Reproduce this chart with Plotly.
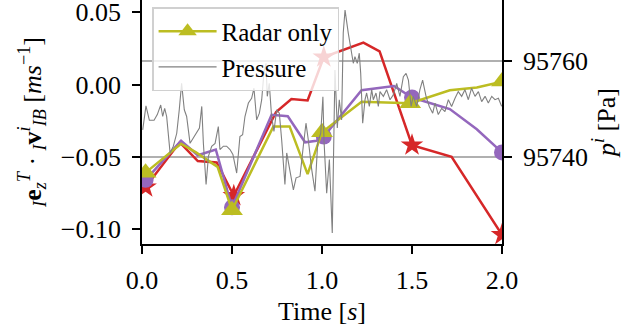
import plotly.graph_objects as go

# ---------------- data ----------------
RED_T = [0.02, 0.21, 0.31, 0.415, 0.51, 0.745, 0.83, 0.92, 1.01, 1.23, 1.32, 1.50, 1.72, 2.0]
RED_V = [-0.071, -0.040, -0.053, -0.054, -0.077, -0.019, -0.010, -0.011, 0.019, 0.029, 0.023, -0.042, -0.050, -0.104]
RED_MARK = [0, 4, 8, 11, 13]

PUR_T = [0.02, 0.217, 0.31, 0.41, 0.50, 0.72, 0.81, 0.906, 0.97, 1.01, 1.22, 1.40, 1.50, 1.71, 1.86, 2.0]
PUR_V = [-0.066, -0.039, -0.049, -0.045, -0.085, -0.021, -0.022, -0.040, -0.039, -0.036, -0.004, -0.001, -0.009, -0.017, -0.031, -0.047]
PUR_MARK = [0, 4, 9, 12, 15]

OLI_T = [0.02, 0.217, 0.30, 0.42, 0.50, 0.73, 0.82, 0.92, 1.0, 1.22, 1.49, 1.71, 1.86, 2.0]
OLI_V = [-0.061, -0.041, -0.047, -0.057, -0.087, -0.029, -0.029, -0.062, -0.033, -0.012, -0.013, -0.004, -0.002, 0.002]
OLI_MARK = [0, 4, 8, 10, 13]

P_T = [0.004, 0.022, 0.041, 0.067, 0.085, 0.104, 0.115, 0.126, 0.137, 0.156,
       0.174, 0.193, 0.207, 0.220, 0.235, 0.248, 0.267, 0.285, 0.304, 0.319,
       0.332, 0.341, 0.356, 0.369, 0.387, 0.406, 0.424, 0.433, 0.452, 0.470,
       0.489, 0.505, 0.526, 0.544, 0.559, 0.572, 0.591, 0.609, 0.622, 0.637,
       0.652, 0.665, 0.678, 0.689, 0.696, 0.707, 0.720, 0.733, 0.748, 0.763,
       0.776, 0.794, 0.804, 0.822, 0.841, 0.856, 0.878, 0.896, 0.911, 0.924,
       0.943, 0.961, 0.976, 0.993, 1.005, 1.011, 1.026, 1.041, 1.057, 1.072,
       1.085, 1.096, 1.109, 1.118, 1.128, 1.146, 1.165, 1.174, 1.183, 1.196,
       1.207, 1.215, 1.226, 1.239, 1.248, 1.263, 1.276, 1.285, 1.300, 1.313,
       1.322, 1.341, 1.359, 1.378, 1.396, 1.415, 1.433, 1.452, 1.467, 1.480,
       1.495, 1.507, 1.526, 1.544, 1.559, 1.578, 1.596, 1.615, 1.628, 1.646,
       1.665, 1.683, 1.702, 1.720, 1.739, 1.757, 1.776, 1.794, 1.813, 1.831,
       1.850, 1.869, 1.887, 1.906, 1.924, 1.943, 1.961, 1.980, 1.998]
P_V = [95745.6, 95750.6, 95747.6, 95747.6, 95748.8, 95750.8, 95748.4, 95750.1, 95748.4, 95740.8,
       95742.2, 95744.9, 95749.8, 95755.3, 95749.8, 95748.4, 95742.8, 95743.9, 95744.9, 95746.0,
       95750.5, 95742.8, 95734.2, 95740.1, 95742.2, 95742.8, 95746.3, 95741.5, 95742.2, 95742.2,
       95741.5, 95740.5, 95736.6, 95744.2, 95744.6, 95748.4, 95751.2, 95752.2, 95754.3, 95747.7,
       95749.1, 95751.9, 95757.8, 95759.5, 95752.6, 95755.3, 95748.4, 95745.3, 95749.8, 95749.1,
       95743.5, 95734.2, 95740.8, 95736.6, 95733.1, 95735.6, 95735.9, 95742.2, 95747.0, 95743.5,
       95737.3, 95732.8, 95742.8, 95744.9, 95752.5, 95743.5, 95732.4, 95739.4, 95724.1, 95758.1,
       95746.0, 95751.9, 95747.7, 95765.8, 95770.6, 95765.8, 95761.6, 95759.5, 95760.9, 95759.5,
       95761.6, 95757.4, 95747.0, 95751.9, 95753.3, 95750.5, 95754.0, 95751.9, 95753.3, 95750.5,
       95753.6, 95752.6, 95754.0, 95751.9, 95752.9, 95755.3, 95752.6, 95756.7, 95757.4, 95756.0,
       95750.5, 95752.6, 95750.5, 95754.0, 95756.0, 95752.6, 95750.5, 95749.1, 95751.2, 95748.8,
       95750.1, 95749.4, 95751.9, 95750.5, 95752.2, 95753.6, 95752.6, 95754.0, 95751.9, 95754.3,
       95752.6, 95753.6, 95751.5, 95752.6, 95751.2, 95752.6, 95751.9, 95752.2, 95750.5]

X_TICKS = [0, 0.5, 1.0, 1.5, 2.0]
X_TICKTEXT = ["0.0", "0.5", "1.0", "1.5", "2.0"]
Y_TICKS = [-0.10, -0.05, 0.00, 0.05]
Y_TICKTEXT = ["\u22120.10", "\u22120.05", "0.00", "0.05"]
Y2_TICKS = [95740, 95760]
Y2_TICKTEXT = ["95740", "95760"]

# ---------------- style ----------------
RED = "#d62728"
PURPLE = "#9467bd"
OLIVE = "#bcbd22"
GRAY = "#808080"
FONT = "Liberation Serif, serif"
FS = 26

fig = go.Figure()


def add_series(t, v, idx, color, symbol, msize):
    fig.add_trace(go.Scatter(x=t, y=v, mode="lines", line=dict(color=color, width=2.5),
                             showlegend=False, hoverinfo="skip"))
    fig.add_trace(go.Scatter(x=[t[i] for i in idx], y=[v[i] for i in idx], mode="markers",
                             marker=dict(symbol=symbol, size=msize, color=color,
                                         line=dict(width=0)),
                             showlegend=False, hoverinfo="skip"))


add_series(RED_T, RED_V, RED_MARK, RED, "star", 17)
add_series(PUR_T, PUR_V, PUR_MARK, PURPLE, "circle", 16)
add_series(OLI_T, OLI_V, OLI_MARK, OLIVE, "triangle-up", 19)

# legend entry for Radar only
fig.add_trace(go.Scatter(x=[None], y=[None], mode="lines+markers", name="Radar only",
                         line=dict(color=OLIVE, width=2.5),
                         marker=dict(symbol="triangle-up", size=16, color=OLIVE)))

fig.add_trace(go.Scatter(x=P_T, y=P_V, mode="lines", name="Pressure", yaxis="y2",
                         line=dict(color=GRAY, width=1.1)))

axis_common = dict(showline=True, linecolor="black", linewidth=1.6, ticks="outside",
                   ticklen=8, tickwidth=1.6, tickcolor="black", zeroline=False,
                   automargin=False, ticklabeloverflow="allow",
                   tickfont=dict(family=FONT, size=FS, color="black"))

fig.update_layout(
    width=629, height=330,
    margin=dict(l=142, r=127, t=0, b=86, autoexpand=False),
    paper_bgcolor="white", plot_bgcolor="white",
    font=dict(family=FONT, size=FS, color="black"),
    xaxis=dict(range=[0, 2], tickvals=X_TICKS, ticktext=X_TICKTEXT, showgrid=False,
               title=dict(text="Time [<i>s</i>]", standoff=8,
                          font=dict(family=FONT, size=FS)),
               ticklabelstandoff=4, **axis_common),
    yaxis=dict(range=[-0.1104, 0.0585], tickvals=Y_TICKS, ticktext=Y_TICKTEXT, showgrid=False,
               title=dict(text="<sub><i>I</i></sub><b>e</b><sub><i>z</i></sub><sup><i>T</i></sup> \u00b7 "
                               "<sub><i>I</i></sub><b>v</b><sup><i>i</i></sup><sub><i>IB</i></sub> "
                               "[<i>ms</i><sup>\u22121</sup>]",
                          standoff=12, font=dict(family=FONT, size=FS)),
               ticklabelstandoff=6, **axis_common),
    yaxis2=dict(range=[95721.8, 95772.7], overlaying="y", side="right",
                tickvals=Y2_TICKS, ticktext=Y2_TICKTEXT,
                showgrid=True, gridcolor="#b0b0b0", gridwidth=1.8,
                title=dict(text="<i>p</i><sup><i>i</i></sup> [Pa]", standoff=10,
                           font=dict(family=FONT, size=FS)),
                ticklabelstandoff=6, **axis_common),
    legend=dict(x=0.028, y=0.971, xanchor="left", yanchor="top",
                bgcolor="rgba(255,255,255,0.8)", bordercolor="#d0d0d0", borderwidth=1.5,
                font=dict(family=FONT, size=25, color="black"),
                tracegroupgap=0, itemwidth=58),
)

fig.write_html("out.html", config={"displayModeBar": False},
               post_script="document.body.style.margin='0';")
